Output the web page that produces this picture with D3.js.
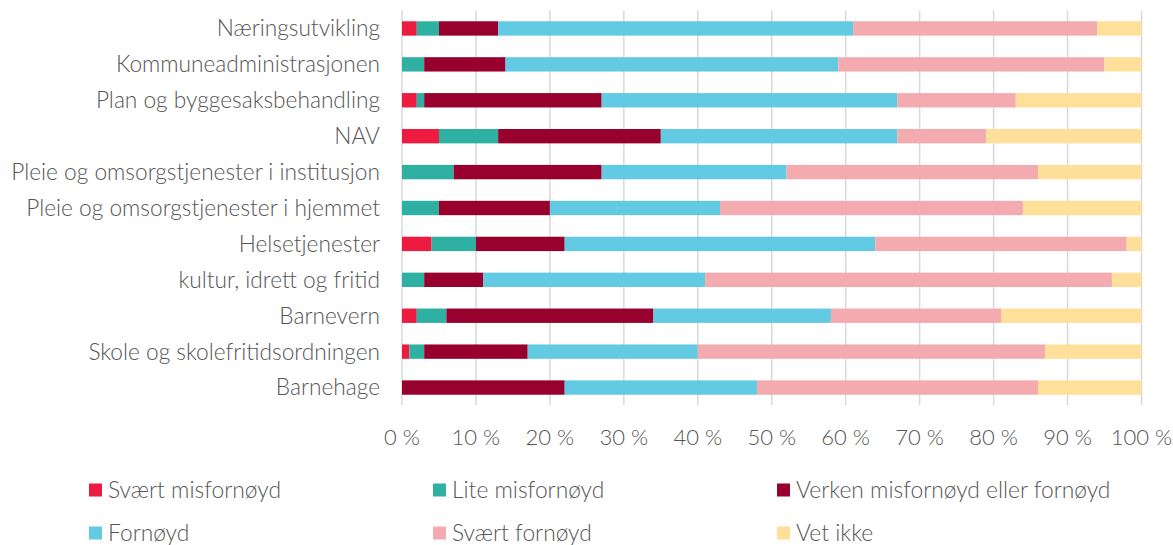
<!DOCTYPE html>
<html>
<head>
<meta charset="utf-8">
<script src="https://cdn.jsdelivr.net/npm/d3@7"></script>
<style>
  body { margin: 0; background: #fff; }
  svg text { font-family: Lato, "Open Sans", sans-serif; font-weight: 300; fill: #555; }
</style>
</head>
<body>
<div id="chart"></div>
<script>
const categories = [
    'Næringsutvikling',
    'Kommuneadministrasjonen',
    'Plan og byggesaksbehandling',
    'NAV',
    'Pleie og omsorgstjenester i institusjon',
    'Pleie og omsorgstjenester i hjemmet',
    'Helsetjenester',
    'kultur, idrett og fritid',
    'Barnevern',
    'Skole og skolefritidsordningen',
    'Barnehage'
];

const seriesNames = ['Svært misfornøyd', 'Lite misfornøyd', 'Verken misfornøyd eller fornøyd', 'Fornøyd', 'Svært fornøyd', 'Vet ikke'];
const seriesColors = ['#ED1B3F', '#2EB1A3', '#98002E', '#63CAE3', '#F3ABB0', '#FFE09B'];

// percent per category, same order as categories
const sveartMisfornoyd = [2, 0, 2, 5, 0, 0, 4, 0, 2, 1, 0];
const liteMisfornoyd   = [3, 3, 1, 8, 7, 5, 6, 3, 4, 2, 0];
const verken           = [8, 11, 24, 22, 20, 15, 12, 8, 28, 14, 22];
const fornoyd          = [48, 45, 40, 32, 25, 23, 42, 30, 24, 23, 26];
const sveartFornoyd    = [33, 36, 16, 12, 34, 41, 34, 55, 23, 47, 38];
const vetIkke          = [6, 5, 17, 21, 14, 16, 2, 4, 19, 13, 14];

const xTicks = [0, 10, 20, 30, 40, 50, 60, 70, 80, 90, 100];

const width = 1173;
const height = 545;

const svg = d3.select('#chart')
    .append('svg')
    .attr('width', width)
    .attr('height', height);

const x = d3.scaleLinear().domain([0, 100]).range([402, 1141.5]);
const y = d3.scaleBand()
    .domain(categories)
    .range([10.5, 405.5])
    .paddingInner(0.6)
    .paddingOuter(0.3);

// gridlines
svg.append('g')
    .selectAll('line')
    .data(xTicks)
    .enter()
    .append('line')
    .attr('x1', d => x(d))
    .attr('x2', d => x(d))
    .attr('y1', 10.5)
    .attr('y2', 405)
    .attr('stroke', '#D9D9D9')
    .attr('stroke-width', 1.5);

const table = categories.map((c, i) => ({
    cat: c,
    s0: sveartMisfornoyd[i],
    s1: liteMisfornoyd[i],
    s2: verken[i],
    s3: fornoyd[i],
    s4: sveartFornoyd[i],
    s5: vetIkke[i]
}));
const keys = ['s0', 's1', 's2', 's3', 's4', 's5'];
const stacked = d3.stack().keys(keys)(table);

svg.append('g')
    .selectAll('g')
    .data(stacked)
    .enter()
    .append('g')
    .attr('fill', (d, i) => seriesColors[i])
    .selectAll('rect')
    .data(d => d)
    .enter()
    .append('rect')
    .attr('x', d => x(d[0]))
    .attr('width', d => x(d[1]) - x(d[0]))
    .attr('y', d => y(d.data.cat))
    .attr('height', y.bandwidth());

// category labels
svg.append('g')
    .selectAll('text')
    .data(categories)
    .enter()
    .append('text')
    .attr('x', 380)
    .attr('y', d => y(d) + y.bandwidth() / 2)
    .attr('dy', '0.35em')
    .attr('text-anchor', 'end')
    .style('font-size', '22.7px')
    .text(d => d);

// x axis labels
svg.append('g')
    .selectAll('text')
    .data(xTicks)
    .enter()
    .append('text')
    .attr('x', d => x(d))
    .attr('y', 437)
    .attr('dy', '0.35em')
    .attr('text-anchor', 'middle')
    .style('font-size', '22px')
    .text(d => d + ' %');

// legend, 3 columns x 2 rows
const legend = svg.append('g')
    .selectAll('g')
    .data(seriesNames)
    .enter()
    .append('g')
    .attr('transform', (d, i) => `translate(${89 + (i % 3) * 344},${i < 3 ? 490 : 533})`);

legend.append('rect')
    .attr('x', 0)
    .attr('y', -6.5)
    .attr('width', 13)
    .attr('height', 13)
    .attr('fill', (d, i) => seriesColors[i]);

legend.append('text')
    .attr('x', 19)
    .attr('y', 0)
    .attr('dy', '0.35em')
    .style('font-size', '22.8px')
    .text(d => d);
</script>
</body>
</html>
